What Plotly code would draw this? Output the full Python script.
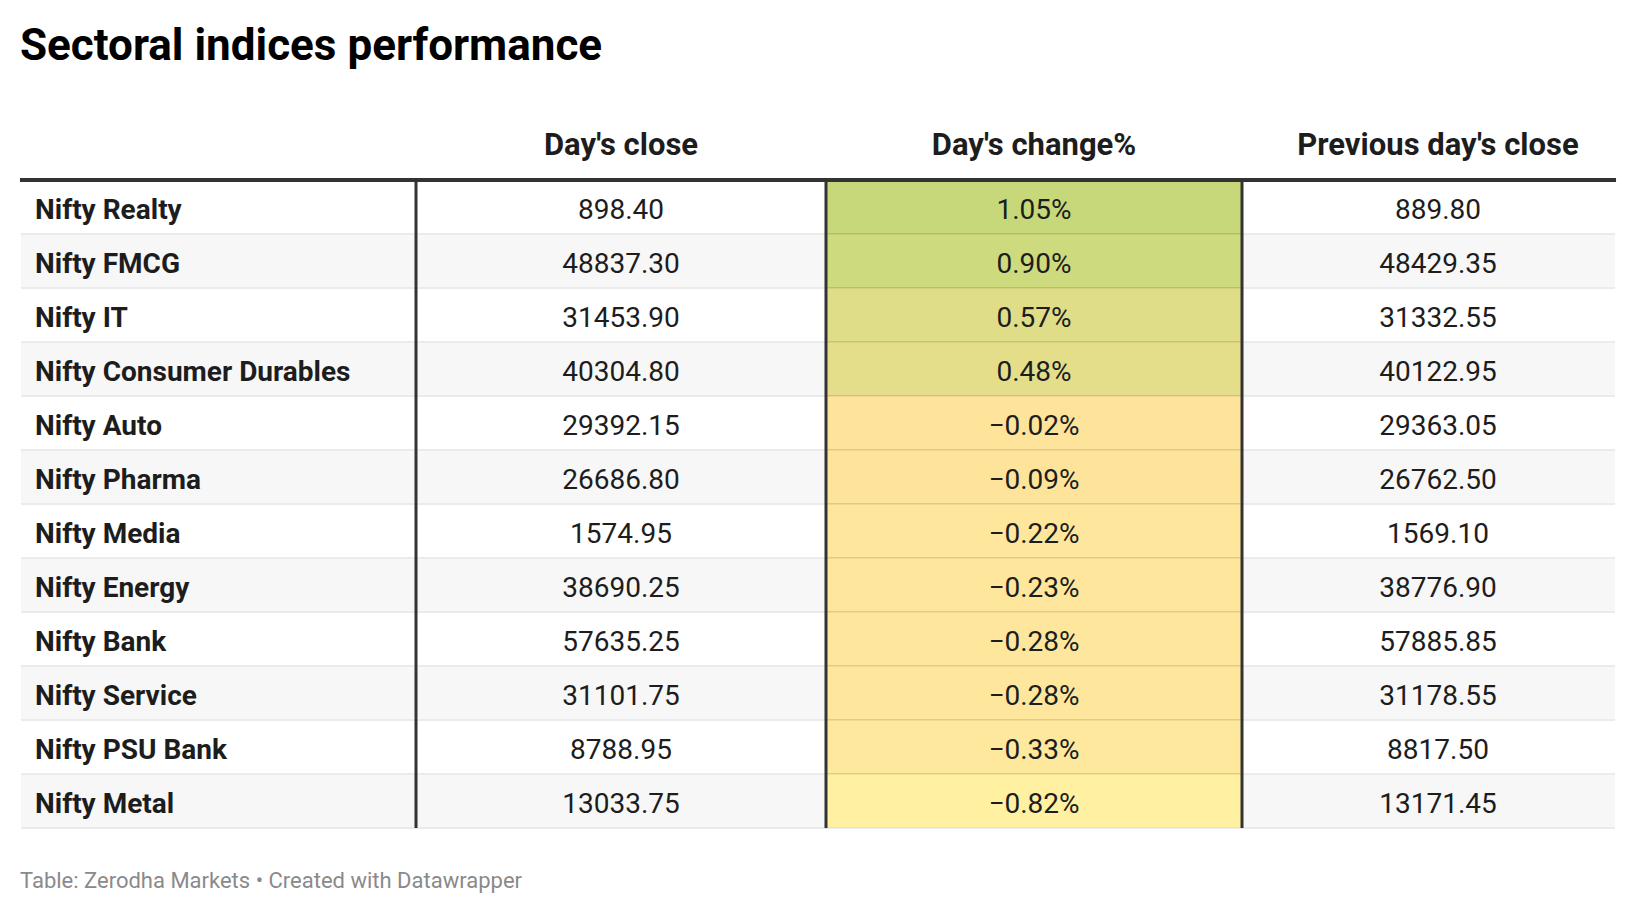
import plotly.graph_objects as go
from plotly.colors import sample_colorscale

# --- Daten ---
INDICES = [
    "Nifty Realty", "Nifty FMCG", "Nifty IT", "Nifty Consumer Durables",
    "Nifty Auto", "Nifty Pharma", "Nifty Media", "Nifty Energy",
    "Nifty Bank", "Nifty Service", "Nifty PSU Bank", "Nifty Metal",
]
DAYS_CLOSE = [898.40, 48837.30, 31453.90, 40304.80, 29392.15, 26686.80,
              1574.95, 38690.25, 57635.25, 31101.75, 8788.95, 13033.75]
DAYS_CHANGE = [1.05, 0.90, 0.57, 0.48, -0.02, -0.09,
               -0.22, -0.23, -0.28, -0.28, -0.33, -0.82]
PREV_CLOSE = [889.80, 48429.35, 31332.55, 40122.95, 29363.05, 26762.50,
              1569.10, 38776.90, 57885.85, 31178.55, 8817.50, 13171.45]
HEADERS = ["", "Day's close", "Day's change%", "Previous day's close"]

TITLE = "Sectoral indices performance"
FOOTER = "Table: Zerodha Markets • Created with Datawrapper"

# --- Layout-Konstanten (Pixel, bezogen auf die Figur; Seite hat 8px Rand) ---
W, H = 1620, 898
LEFT, RIGHT = 12, 1608
COL_WIDTHS = [396, 410, 416, 374]
# Textspalten leicht verschoben, damit die letzte Spalte wie im Original etwas weiter rechts sitzt
TEXT_COL_WIDTHS = [414, 374, 452, 356]
HEADER_H = 72
ROW_H = 54
TABLE_TOP = 100
TEXT_SHIFT_HEADER = 16   # Text sitzt in plotly-Tabellen oben in der Zelle -> nach unten schieben
TEXT_SHIFT_ROWS = 10
FONT = "Roboto"
TEXT_COLOR = "#1d1d1d"
STRIPE = "#f7f7f7"
DIVIDER = "#333333"

# Farbverlauf fuer die Spalte "Day's change%"
CHANGE_STOPS = [(-0.82, "#fff1a1"), (-0.33, "#fee89d"), (-0.02, "#fee39b"), (1.05, "#c6d879")]
lo, hi = CHANGE_STOPS[0][0], CHANGE_STOPS[-1][0]
scale = [[(v - lo) / (hi - lo), c] for v, c in CHANGE_STOPS]
change_colors = sample_colorscale(scale, [(v - lo) / (hi - lo) for v in DAYS_CHANGE], colortype="rgb")

n = len(INDICES)
stripes = ["white" if i % 2 == 0 else STRIPE for i in range(n)]
empty = [[""] * n for _ in range(4)]


def fmt(v):
    return f"{v:.2f}"


def fmt_pct(v):
    return f"{v:.2f}%".replace("-", "\u2212")


cells = [
    ["\u00a0" + name for name in INDICES],
    [fmt(v) for v in DAYS_CLOSE],
    [fmt_pct(v) for v in DAYS_CHANGE],
    [fmt(v) for v in PREV_CLOSE],
]

ALIGN = ["left", "center", "center", "center"]
table_bottom = TABLE_TOP + HEADER_H + n * ROW_H
x_dom = [LEFT / W, RIGHT / W]

# Hintergrund: Flaechen und Zeilenlinien
background = go.Table(
    domain=dict(x=x_dom, y=[1 - (table_bottom + 4) / H, 1 - TABLE_TOP / H]),
    columnwidth=COL_WIDTHS,
    header=dict(values=[""] * 4, height=HEADER_H, fill_color="white",
                line=dict(color="white", width=0)),
    cells=dict(
        values=empty,
        height=ROW_H,
        fill_color=[stripes, stripes, change_colors, stripes],
        line=dict(color=["#ebebeb", "#ebebeb", "rgba(0,0,0,0.06)", "#ebebeb"], width=2),
    ),
    hoverinfo="skip",
)

# Text: gleiche Tabelle, transparent, etwas nach unten versetzt
text_top = TABLE_TOP + TEXT_SHIFT_HEADER
text_header_h = HEADER_H - TEXT_SHIFT_HEADER + TEXT_SHIFT_ROWS
text_bottom = text_top + text_header_h + n * ROW_H
text_table = go.Table(
    domain=dict(x=x_dom, y=[1 - (text_bottom + 4) / H, 1 - text_top / H]),
    columnwidth=TEXT_COL_WIDTHS,
    header=dict(
        values=HEADERS,
        height=text_header_h,
        fill_color="rgba(0,0,0,0)",
        line=dict(color="rgba(0,0,0,0)", width=0),
        align=ALIGN,
        font=dict(family=FONT, size=31, color=TEXT_COLOR, weight="bold"),
    ),
    cells=dict(
        values=cells,
        height=ROW_H,
        fill_color="rgba(0,0,0,0)",
        line=dict(color="rgba(0,0,0,0)", width=0),
        align=ALIGN,
        font=dict(family=FONT, size=28, color=TEXT_COLOR,
                  weight=["bold", "normal", "normal", "normal"]),
    ),
)

fig = go.Figure([background, text_table])

# dicke Linie unter dem Kopf, senkrechte Trenner, Aussenkanten weiss abdecken
header_y = 1 - (TABLE_TOP + HEADER_H) / H
bottom_y = 1 - table_bottom / H
shapes = []
for edge in (LEFT, RIGHT):
    shapes.append(dict(type="line", xref="paper", yref="paper", x0=edge / W, x1=edge / W,
                       y0=bottom_y - 2 / H, y1=header_y, line=dict(color="white", width=2)))
shapes.append(dict(type="line", xref="paper", yref="paper", x0=LEFT / W, x1=RIGHT / W,
                   y0=header_y, y1=header_y, line=dict(color=DIVIDER, width=4)))
scale_x = (RIGHT - LEFT) / sum(COL_WIDTHS)
x = LEFT
for w in COL_WIDTHS[:-1]:
    x += w * scale_x
    shapes.append(dict(type="line", xref="paper", yref="paper", x0=x / W, x1=x / W,
                       y0=bottom_y, y1=header_y, line=dict(color=DIVIDER, width=3)))

fig.update_layout(
    width=W, height=H,
    margin=dict(l=0, r=0, t=0, b=0),
    paper_bgcolor="white",
    shapes=shapes,
    annotations=[
        dict(text=TITLE, xref="paper", yref="paper", x=(LEFT - 2) / W, y=1 - 37 / H,
             xanchor="left", yanchor="middle", showarrow=False,
             font=dict(family=FONT, size=44, color="#000000", weight="bold")),
        dict(text=FOOTER, xref="paper", yref="paper", x=(LEFT - 2) / W, y=1 - 872 / H,
             xanchor="left", yanchor="middle", showarrow=False,
             font=dict(family=FONT, size=22, color="#8a8a8a")),
    ],
)

fig.write_html("out.html")
